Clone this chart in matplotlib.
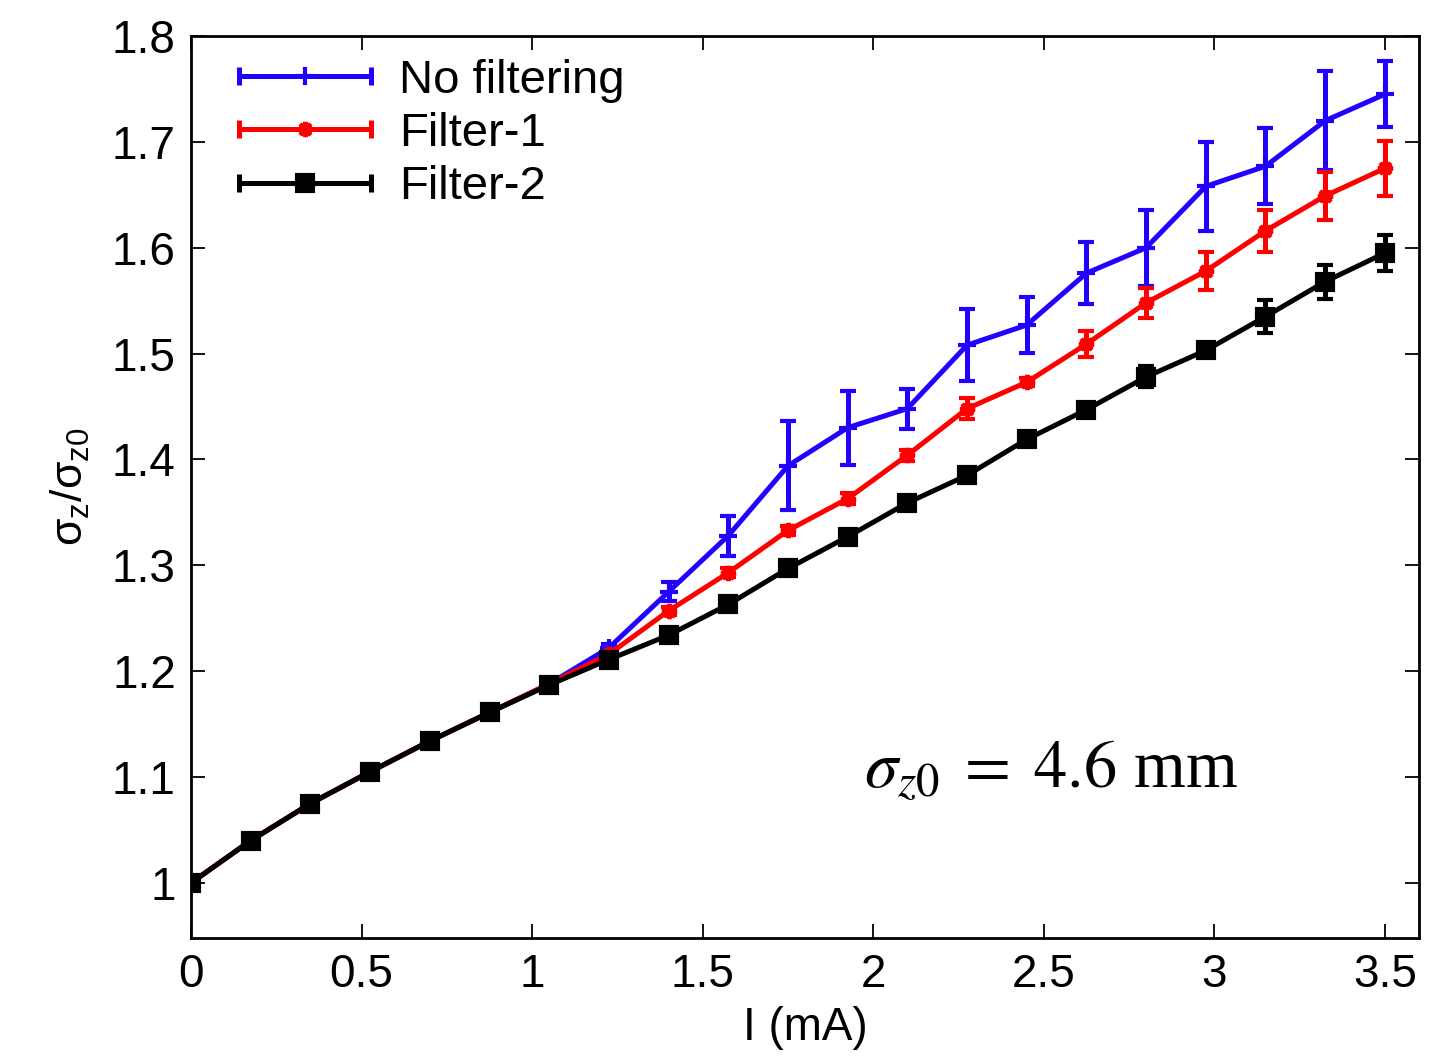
import numpy as np
import matplotlib.pyplot as plt
from matplotlib.lines import Line2D
from matplotlib.legend_handler import HandlerLine2D, HandlerTuple

plt.rcParams['font.family'] = ['Liberation Sans', 'DejaVu Sans']
plt.rcParams['mathtext.fontset'] = 'dejavusans'

# current (mA)
current = [0.0, 0.175, 0.35, 0.525, 0.7, 0.875, 1.05, 1.225, 1.4, 1.575, 1.75,
           1.925, 2.1, 2.275, 2.45, 2.625, 2.8, 2.975, 3.15, 3.325, 3.5]

# sigma_z / sigma_z0
no_filter = [1.0, 1.04, 1.075, 1.105, 1.134, 1.161, 1.188, 1.222, 1.275, 1.328, 1.394,
             1.430, 1.448, 1.508, 1.527, 1.576, 1.600, 1.658, 1.677, 1.720, 1.745]
no_filter_err = [0.002, 0.002, 0.002, 0.002, 0.002, 0.002, 0.002, 0.004, 0.009, 0.019, 0.042,
                 0.035, 0.019, 0.034, 0.026, 0.029, 0.036, 0.042, 0.036, 0.047, 0.031]

filter1 = [1.0, 1.04, 1.075, 1.105, 1.134, 1.161, 1.188, 1.216, 1.257, 1.293, 1.333,
           1.363, 1.404, 1.448, 1.473, 1.509, 1.548, 1.578, 1.616, 1.649, 1.675]
filter1_err = [0.002, 0.002, 0.002, 0.002, 0.002, 0.002, 0.002, 0.003, 0.004, 0.004, 0.004,
               0.005, 0.005, 0.010, 0.004, 0.012, 0.014, 0.018, 0.020, 0.023, 0.026]

filter2 = [1.0, 1.04, 1.075, 1.105, 1.134, 1.161, 1.187, 1.211, 1.234, 1.263, 1.297,
           1.327, 1.359, 1.385, 1.419, 1.447, 1.478, 1.503, 1.535, 1.568, 1.595]
filter2_err = [0.002, 0.002, 0.002, 0.002, 0.002, 0.002, 0.002, 0.002, 0.002, 0.002, 0.002,
               0.002, 0.002, 0.002, 0.002, 0.002, 0.010, 0.002, 0.016, 0.016, 0.017]

fig = plt.figure(figsize=(14.3, 10.59), dpi=100)
ax = fig.add_axes([0.1336, 0.1143, 0.8587, 0.8517])

styles = [
    (no_filter, no_filter_err, '#2200ff', '+', 13, 'No filtering'),
    (filter1, filter1_err, '#ff0000', (8, 2, 0), 11, 'Filter-1'),
    (filter2, filter2_err, 'black', 's', 11, 'Filter-2'),
]

handles = []
labels = []
hmap = {}
for vals, err, col, mk, ms, lab in styles:
    ax.errorbar(current, vals, yerr=err, color=col, lw=3.6, marker=mk, ms=ms, mew=3,
                mfc=col, mec=col, elinewidth=3.6, capsize=6, capthick=3.6)
    ln = Line2D([], [], color=col, lw=3.6, marker=mk, ms=ms, mew=3, mfc=col, mec=col)
    caps = Line2D([], [], color=col, lw=0, marker='|', ms=13, mew=3.6)
    hmap[ln] = HandlerLine2D(numpoints=1)
    hmap[caps] = HandlerLine2D(numpoints=2, marker_pad=0)
    tup = (ln, caps)
    hmap[tup] = HandlerTuple(ndivide=1)
    handles.append(tup)
    labels.append(lab)

ax.legend(handles, labels, handler_map=hmap,
          loc='upper left', bbox_to_anchor=(0.039, 0.975), frameon=False, borderpad=0,
          borderaxespad=0, fontsize=34, handlelength=2.8, handletextpad=0.6,
          labelspacing=0.2)

ax.set_xlim(0, 3.6)
ax.set_ylim(0.948, 1.8)
ax.set_xticks([0, 0.5, 1, 1.5, 2, 2.5, 3, 3.5])
ax.set_xticklabels(['0', '0.5', '1', '1.5', '2', '2.5', '3', '3.5'])
ax.set_yticks([1, 1.1, 1.2, 1.3, 1.4, 1.5, 1.6, 1.7, 1.8])
ax.set_yticklabels(['1', '1.1', '1.2', '1.3', '1.4', '1.5', '1.6', '1.7', '1.8'])
ax.tick_params(direction='in', length=10, width=1.3, labelsize=33, pad=11,
               top=True, right=True)
for s in ax.spines.values():
    s.set_linewidth(2)

ax.set_xlabel('I (mA)', fontsize=33, labelpad=6)
ax.set_ylabel(r'$\mathregular{\sigma_z/\sigma_{z0}}$', fontsize=32, labelpad=14)

ax.text(0.548, 0.167, r'$\sigma_{z0}\;=\;4.6$ mm', transform=ax.transAxes,
        fontsize=48, family=['Liberation Serif'], math_fontfamily='stix',
        va='baseline', ha='left')

fig.savefig('out.png', dpi=100)
